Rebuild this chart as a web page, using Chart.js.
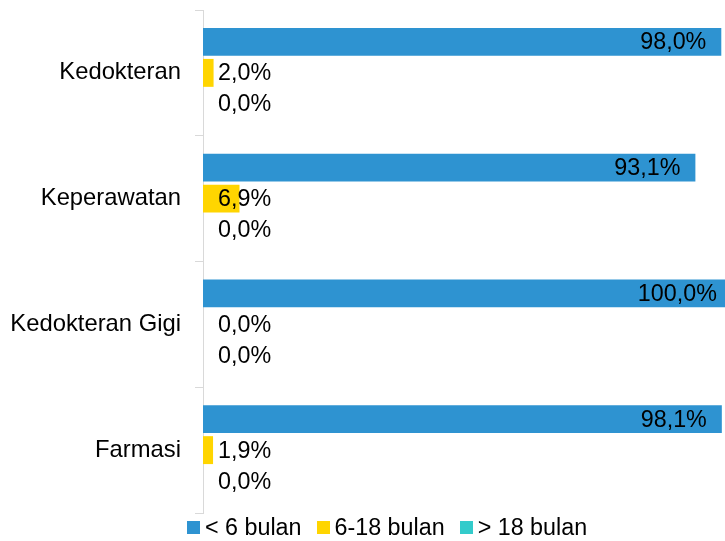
<!DOCTYPE html>
<html>
<head>
<meta charset="utf-8">
<script src="https://cdn.jsdelivr.net/npm/chart.js@4.4.1/dist/chart.umd.min.js"></script>
<style>
  html, body { margin: 0; padding: 0; background: #ffffff; }
  #wrap { position: relative; width: 725px; height: 541px; }
  #legend { position: absolute; left: 187px; top: 514px; display: flex; align-items: center;
            font-family: "Liberation Sans", Arial, sans-serif; font-size: 23.3px; color: #000; white-space: nowrap; }
  .item { display: flex; align-items: center; margin-right: 15px; }
  .box { width: 13px; height: 13px; margin-right: 5px; }
</style>
</head>
<body>
<div id="wrap">
  <canvas id="c" width="725" height="541"></canvas>
  <div id="legend"></div>
</div>
<script>
const categories = ['Kedokteran', 'Keperawatan', 'Kedokteran Gigi', 'Farmasi'];
const seriesNames = ['< 6 bulan', '6-18 bulan', '> 18 bulan'];
const under6 = [98.0, 93.1, 100.0, 98.1];
const from6to18 = [2.0, 6.9, 0.0, 1.9];
const over18 = [0.0, 0.0, 0.0, 0.0];
const colors = ['#2E93D1', '#FFD500', '#33CBCB'];

const FONT = '"Liberation Sans", Arial, sans-serif';

const labelPlugin = {
  id: 'valueLabels',
  afterDatasetsDraw(chart) {
    const ctx = chart.ctx;
    ctx.save();
    ctx.font = '23.3px ' + FONT;
    ctx.fillStyle = '#000';
    ctx.textBaseline = 'middle';
    chart.data.datasets.forEach((ds, di) => {
      const meta = chart.getDatasetMeta(di);
      meta.data.forEach((el, i) => {
        const v = ds.data[i];
        const txt = v.toFixed(1).replace('.', ',') + '%';
        if (di === 0) {
          ctx.textAlign = 'right';
          ctx.fillText(txt, el.x - 15, el.y + 1);
        } else {
          ctx.textAlign = 'left';
          ctx.fillText(txt, el.base + 15, el.y + 1);
        }
      });
    });
    ctx.restore();
  }
};

const seriesData = [under6, from6to18, over18];

new Chart(document.getElementById('c'), {
  type: 'bar',
  data: {
    labels: categories,
    datasets: seriesNames.map((name, k) => ({
      label: name,
      data: seriesData[k],
      backgroundColor: colors[k],
      borderWidth: 0,
      categoryPercentage: 0.74,
      barPercentage: 0.9
    }))
  },
  options: {
    indexAxis: 'y',
    responsive: false,
    animation: false,
    layout: { padding: { top: 10, bottom: 28, left: 0, right: 0 } },
    plugins: { legend: { display: false }, tooltip: { enabled: false } },
    scales: {
      x: { display: false, min: 0, max: 98.7 },
      y: {
        position: 'left',
        afterFit(scale) { scale.width = 203; scale.paddingTop = 0; scale.paddingBottom = 0; },
        grid: { offset: true, drawOnChartArea: false, drawTicks: true, tickLength: 8, color: '#d9d9d9', lineWidth: 1 },
        border: { display: true, color: '#d9d9d9', width: 1 },
        ticks: { font: { family: FONT, size: 23.8 }, color: '#000', padding: 14 }
      }
    }
  },
  plugins: [labelPlugin]
});

const legend = document.getElementById('legend');
seriesNames.forEach((name, k) => {
  const item = document.createElement('div');
  item.className = 'item';
  const box = document.createElement('span');
  box.className = 'box';
  box.style.background = colors[k];
  const t = document.createElement('span');
  t.textContent = name;
  item.appendChild(box);
  item.appendChild(t);
  legend.appendChild(item);
});
</script>
</body>
</html>
